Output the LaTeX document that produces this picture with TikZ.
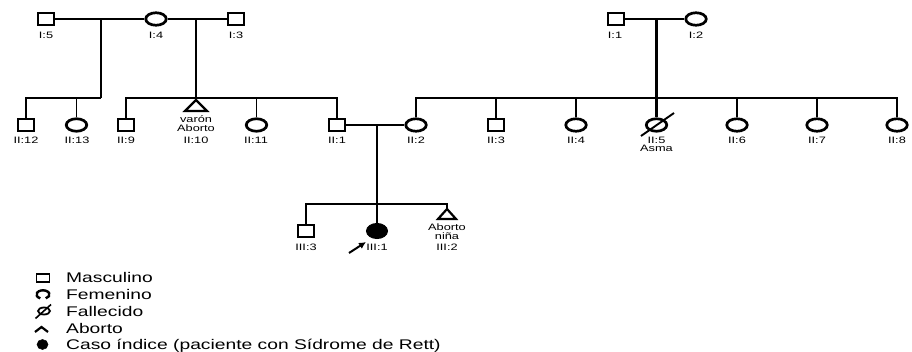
\documentclass[tikz,border=0pt]{standalone}
\usepackage{fontspec}
\setmainfont{Liberation Sans}[FakeStretch=1.375]
\usetikzlibrary{shapes.geometric,arrows.meta}
\begin{document}
\begin{tikzpicture}[x=1pt,y=-1pt,
  male/.style={draw,rectangle,inner sep=0,minimum width=16.5pt,minimum height=11.5pt,line width=1.7pt},
  female/.style={draw,ellipse,inner sep=0,minimum width=20.5pt,minimum height=12.5pt,line width=2.7pt},
  lab/.style={inner sep=0,font=\fontsize{9.3}{9.3}\selectfont},
  leg/.style={inner sep=0,anchor=base west,font=\fontsize{14}{14}\selectfont},
  ln/.style={line width=1.7pt},
  drop/.style={line width=2.2pt},
  tri/.style={line width=2.2pt,line join=miter}]
\useasboundingbox (0,0) rectangle (912,352);
\fill[white] (0,0) rectangle (912,352);

% Generation I
\node[male] (I5) at (46,19) {};
\node[female] (I4) at (156,19) {};
\node[male] (I3) at (236,19) {};
\node[male] (I1) at (616,19) {};
\node[female] (I2) at (696,19) {};
\draw[ln] (I5) -- (I4);
\draw[ln] (I4) -- (I3);
\draw[ln] (I1) -- (I2);
\node[lab] (lI5) at (46,35) {I:5};
\node[lab] (lI4) at (156,35) {I:4};
\node[lab] (lI3) at (236,35) {I:3};
\node[lab] (lI1) at (615,35) {I:1};
\node[lab] (lI2) at (696,35) {I:2};

\coordinate (m1) at (101,19);
\coordinate (s1) at (101,98);
\coordinate (m2) at (196,19);
\coordinate (s2) at (196,98);
\coordinate (m3) at (656.5,19);
\coordinate (s3) at (656.5,98);

% Generation II
\node[male] (II12) at (26,125) {};
\node[female] (II13) at (76.5,125) {};
\node[male] (II9) at (126,125) {};
\coordinate (II10) at (196,100);
\node[female] (II11) at (256.5,125) {};
\node[male] (II1) at (337,125) {};
\node[female] (II2) at (416,125) {};
\node[male] (II3) at (496,125) {};
\node[female] (II4) at (576,125) {};
\node[female] (II5) at (656.5,125) {};
\node[female] (II6) at (737,125) {};
\node[female] (II7) at (817,125) {};
\node[female] (II8) at (897,125) {};

\draw[tri] (II10) -- ++(-11,11) -- ++(22,0) -- cycle;

\draw[drop] (m1) -- (s1);
\draw[ln] (II12) |- (s1);
\draw[ln] (II13) -- (II13 |- s1);

\draw[drop] (m2) -- (II10);
\draw[ln] (II9) |- (s2);
\draw[ln] (II1) |- (s2);
\draw[ln] (II11) -- (II11 |- s2);

\draw[drop] (m3) -- (II5);
\draw[ln] (II2) |- (s3);
\draw[ln] (II8) |- (s3);
\draw[ln] (II3) -- (II3 |- s3);
\draw[ln] (II4) -- (II4 |- s3);
\draw[ln] (II6) -- (II6 |- s3);
\draw[ln] (II7) -- (II7 |- s3);

\coordinate (d1) at (641,136);
\coordinate (d2) at (674,113);
\draw[line width=1.9pt] (d1) -- (d2);

\node[lab] (lII12) at (26,140) {II:12};
\node[lab] (lII13) at (77,140) {II:13};
\node[lab] (lII9) at (126,140) {II:9};
\node[lab] (vII10) at (196,119) {varón};
\node[lab] (aII10) at (196,128) {Aborto};
\node[lab] (lII10) at (196,140) {II:10};
\node[lab] (lII11) at (256,140) {II:11};
\node[lab] (lII1) at (337,140) {II:1};
\node[lab] (lII2) at (416,140) {II:2};
\node[lab] (lII3) at (496,140) {II:3};
\node[lab] (lII4) at (576,140) {II:4};
\node[lab] (lII5) at (656.5,140) {II:5};
\node[lab] (asma) at (656.5,148) {Asma};
\node[lab] (lII6) at (737,140) {II:6};
\node[lab] (lII7) at (817,140) {II:7};
\node[lab] (lII8) at (897,140) {II:8};

% Generation III
\draw[ln] (II1) -- (II2);
\coordinate (m4) at (377,125);
\coordinate (s4) at (377,204);
\node[draw,fill=black,ellipse,inner sep=0,minimum width=21pt,minimum height=15pt,line width=1pt] (III1) at (377,231) {};
\node[male] (III3) at (306,231) {};
\coordinate (III2) at (447,209);
\draw[tri] (III2) -- ++(-9,10) -- ++(18,0) -- cycle;
\draw[drop] (m4) -- (III1);
\draw[ln] (III3) |- (s4);
\draw[ln] (III2) |- (s4);

\node[lab] (lIII3) at (306,247) {III:3};
\node[lab] (lIII1) at (377,247) {III:1};
\node[lab] (aIII2) at (447,227) {Aborto};
\node[lab] (nIII2) at (447,236) {niña};
\node[lab] (lIII2) at (447,247) {III:2};

\coordinate (pa) at (349,253);
\coordinate (pb) at (366,242);
\draw[line width=2pt,-{Latex[length=7pt,width=7pt]}] (pa) -- (pb);

% Legend
\node[draw,rectangle,inner sep=0,minimum width=13pt,minimum height=8pt,line width=1.2pt] (kM) at (43,278) {};
\node[leg] (tM) at (66,282.5) {Masculino};
\coordinate (kF) at (43,294.5);
\draw[line width=2.4pt] (kF) ++(115:6.5 and 4.2) arc[start angle=115,end angle=425,x radius=6.5,y radius=4.2];
\node[leg] (tF) at (66,299.5) {Femenino};
\node[draw,ellipse,inner sep=0,minimum width=12pt,minimum height=7pt,line width=1.8pt] (kD) at (44,311) {};
\coordinate (kd1) at (35.5,318.5);
\coordinate (kd2) at (51,304.5);
\draw[line width=1.6pt] (kd1) -- (kd2);
\node[leg] (tD) at (66,316.5) {Fallecido};
\coordinate (kA) at (41.5,327);
\draw[line width=2.2pt,line join=miter] (kA) ++(-6.5,5) -- (kA) -- ++(6.5,5);
\node[leg] (tA) at (66,333.5) {Aborto};
\node[draw,fill=black,ellipse,inner sep=0,minimum width=11pt,minimum height=10pt,line width=0.5pt] (kC) at (42.5,344.5) {};
\node[leg] (tC) at (66,349.5) {Caso índice (paciente con Sídrome de Rett)};
\end{tikzpicture}
\end{document}
